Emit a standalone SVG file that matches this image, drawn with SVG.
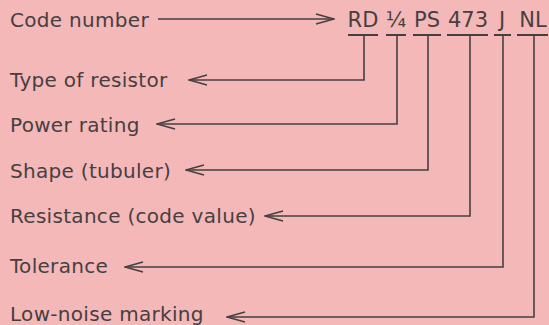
<svg xmlns="http://www.w3.org/2000/svg" width="549" height="325" viewBox="0 0 549 325">
<defs>
<style>
text{font-family:"DejaVu Sans","Liberation Sans",sans-serif;font-size:20px;fill:#463f42;letter-spacing:0.3px}
.ln{fill:none;stroke:#463f42;stroke-width:1.6}
.bar{fill:none;stroke:#463f42;stroke-width:2.2}
.code{text-anchor:middle;font-size:21px;letter-spacing:0}
</style>
<marker id="ah" viewBox="0 0 20 12" refX="19" refY="6" markerWidth="20" markerHeight="12" markerUnits="userSpaceOnUse" orient="auto">
<path d="M1,1 L19,6 L1,11" fill="none" stroke="#463f42" stroke-width="1.6"/>
</marker>
</defs>
<rect width="549" height="325" fill="#f3b8b7"/>
<g id="code-number"><text x="10" y="27">Code number</text></g>
<g id="code">
<text class="code" x="363" y="27">RD</text>
<text class="code" x="396" y="27">¼</text>
<text class="code" x="427" y="27">PS</text>
<text class="code" x="468" y="27">473</text>
<text class="code" x="502" y="27">J</text>
<text class="code" x="533" y="27">NL</text>
</g>
<g id="type"><text x="10" y="87">Type of resistor</text></g>
<g id="power"><text x="10" y="132">Power rating</text></g>
<g id="shape"><text x="10" y="178">Shape (tubuler)</text></g>
<g id="resistance"><text x="10" y="223">Resistance (code value)</text></g>
<g id="tolerance"><text x="10" y="273">Tolerance</text></g>
<g id="lownoise"><text x="10" y="321">Low-noise marking</text></g>
<g id="connectors">
<path class="ln" d="M158,19 H334" marker-end="url(#ah)"/>
<path class="bar" d="M348,35 H378 M386,35 H406 M413,35 H441 M447,35 H488 M494,35 H511 M517,35 H548"/>
<path class="ln" d="M364,35 V80 H189" marker-end="url(#ah)"/>
<path class="ln" d="M397,35 V124 H157" marker-end="url(#ah)"/>
<path class="ln" d="M428,35 V170 H186" marker-end="url(#ah)"/>
<path class="ln" d="M470,35 V216 H265" marker-end="url(#ah)"/>
<path class="ln" d="M503,35 V267 H125" marker-end="url(#ah)"/>
<path class="ln" d="M534,35 V317 H227" marker-end="url(#ah)"/>
</g>
</svg>
